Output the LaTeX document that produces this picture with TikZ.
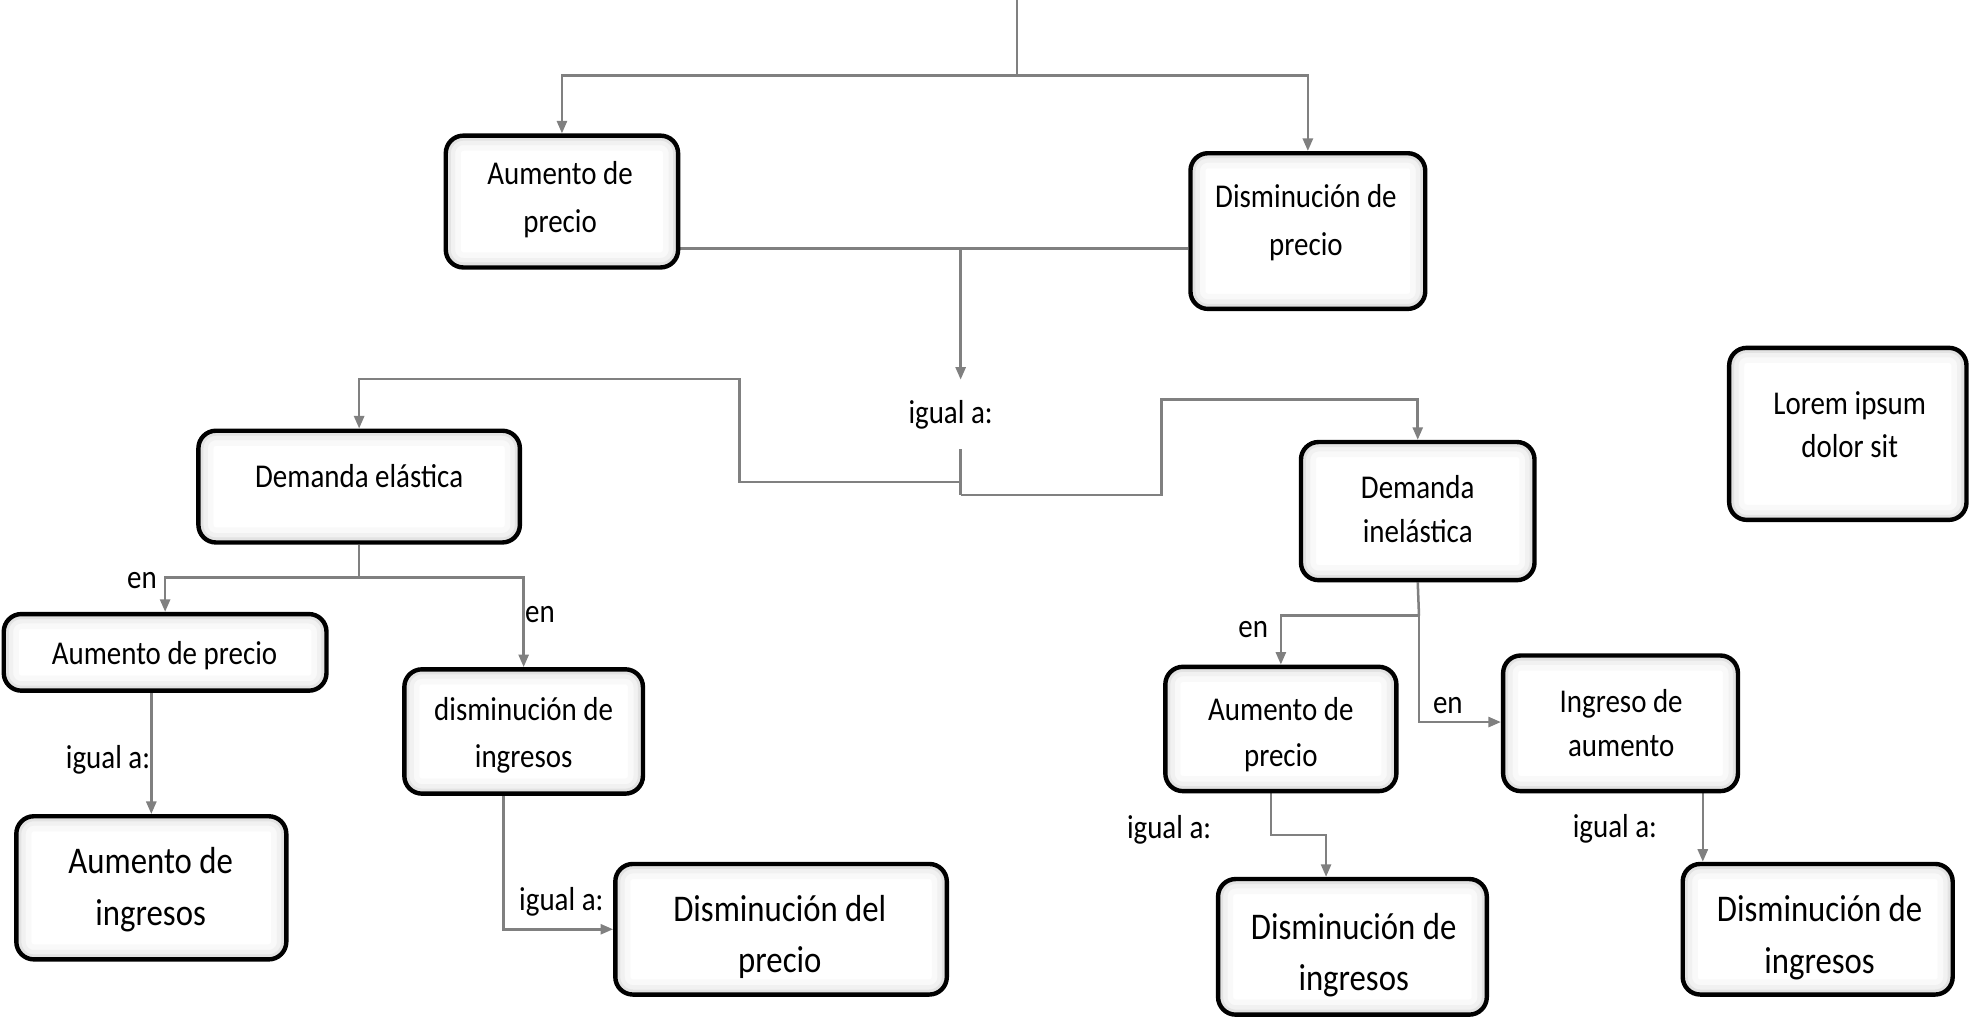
\documentclass[tikz,border=0pt]{standalone}
\usepackage{fontspec}
\setmainfont{Carlito}[FakeStretch=0.87]
\usetikzlibrary{arrows.meta,fit,backgrounds}
\definecolor{conn}{HTML}{808080}
\begin{document}
\begin{tikzpicture}[x=1pt,y=-1pt,
  box/.style={draw=black, line width=3.5pt, rounded corners=14pt, fill=white, inner sep=0pt,
    path picture={
      \draw[rounded corners=14pt, gray!5, line width=24pt] (path picture bounding box.south west) rectangle (path picture bounding box.north east);
      \draw[rounded corners=14pt, gray!11, line width=15pt] (path picture bounding box.south west) rectangle (path picture bounding box.north east);
      \draw[rounded corners=14pt, gray!22, line width=8pt] (path picture bounding box.south west) rectangle (path picture bounding box.north east);
    }},
  txt/.style={align=center, inner sep=0pt, font=\fontsize{26.5}{36}\selectfont},
  bigtxt/.style={align=center, inner sep=0pt, font=\fontsize{30}{41}\selectfont},
  lbl/.style={inner sep=0pt, font=\fontsize{26.5}{36}\selectfont},
  conn/.style={draw=conn, line width=2pt},
  arr/.style={conn, -{Triangle[length=10pt,width=8pt]}}
]
\useasboundingbox (0,0) rectangle (1568,811);

% boxes
\node[box, fit={(355,108) (540,213)}] (A) {};
\node[box, fit={(948,122) (1135,246)}] (B) {};
\node[box, fit={(158,343) (414,432)}] (C) {};
\node[box, fit={(3,489) (260,550)}] (D) {};
\node[box, fit={(13,650) (228,764)}] (E) {};
\node[box, fit={(322,533) (512,632)}] (F) {};
\node[box, fit={(490,688) (754,792)}] (G) {};
\node[box, fit={(1036,352) (1222,462)}] (H) {};
\node[box, fit={(928,531) (1112,630)}] (I) {};
\node[box, fit={(1197,522) (1384,630)}] (J) {};
\node[box, fit={(970,700) (1184,808)}] (K) {};
\node[box, fit={(1340,688) (1555,792)}] (L) {};
\node[box, fit={(1377,277) (1566,414)}] (M) {};

% texts
\node[txt, font=\fontsize{26.5}{38}\selectfont] (At) at (446,159) {Aumento de\\precio};
\node[txt, font=\fontsize{26.5}{38}\selectfont] (Bt) at (1040,177) {Disminución de\\precio};
\node[txt] (Ct) at (286,379) {Demanda elástica};
\node[txt] (Dt) at (131,522) {Aumento de precio};
\node[bigtxt] (Et) at (120,708.5) {Aumento de\\ingresos};
\node[txt, font=\fontsize{26.5}{37}\selectfont] (Ft) at (417,585.5) {disminución de\\ingresos};
\node[bigtxt] (Gt) at (621,746) {Disminución del\\precio};
\node[txt, font=\fontsize{26.5}{35}\selectfont] (Ht) at (1129,405.5) {Demanda\\inelástica};
\node[txt] (It) at (1020,585) {Aumento de\\precio};
\node[txt, font=\fontsize{26.5}{35}\selectfont] (Jt) at (1291,575.5) {Ingreso de\\aumento};
\node[bigtxt] (Kt) at (1078,760.5) {Disminución de\\ingresos};
\node[bigtxt] (Lt) at (1449,746.5) {Disminución de\\ingresos};
\node[txt, font=\fontsize{26.5}{34}\selectfont] (Mt) at (1473,338) {Lorem ipsum\\dolor sit};

% labels
\node[lbl, inner ysep=16pt] (igual) at (757,330) {igual a:};
\node[lbl] (en1) at (113,462) {en};
\node[lbl] (en2) at (430,489) {en};
\node[lbl] (ig2) at (86,605) {igual a:};
\node[lbl] (ig3) at (447,718) {igual a:};
\node[lbl] (en3) at (998,501) {en};
\node[lbl] (en4) at (1153,562) {en};
\node[lbl] (ig4) at (931,661) {igual a:};
\node[lbl] (ig5) at (1286,660) {igual a:};

% junction coordinates
\coordinate (top) at (810,0);
\coordinate (j1) at (810,60);
\coordinate (j2) at (765,198);
\coordinate (j4) at (765,394);
\coordinate (j5) at (765,384);
\coordinate (j6) at (286,460);
\coordinate (j7) at (401,740);
\coordinate (j8) at (1130,490);
\coordinate (j9) at (1130,575);
\coordinate (j10) at (1012,665);
\coordinate (j11) at (1056,665);
\coordinate (j12) at (1356,660);

\begin{pgfonlayer}{background}
\draw[conn] (top) -- (j1);
\draw[arr] (j1) -| (A.north);
\draw[arr] (j1) -| (B.north);
\draw[conn] (A.east |- j2) -- (j2);
\draw[conn] (B.west |- j2) -- (j2);
\draw[arr] (j2) -- (j2 |- igual.north);
\draw[conn] (j2 |- igual.south) -- (j4);
\draw[arr] (j5) -- (589,384) -- (589,302) -| (C.north);
\draw[arr] (j4) -| (925,318) -| (H.north);
\draw[conn] (C.south) -- (j6);
\draw[arr] (j6) -| (D.north);
\draw[arr] (j6) -| (F.north);
\draw[arr] (D.south -| E.north) -- (E.north);
\draw[arr] (F.south -| j7) -- (j7) -- (G.west);
\draw[conn] (H.south) -- (j8);
\draw[arr] (j8) -| (I.north);
\draw[arr] (j8) -- (j9) -- (J.west |- j9);
\draw[arr] (I.south -| j10) -- (j10) -- (j11) -- (K.north -| j11);
\draw[arr] (J.south -| j12) -- (L.north -| j12);
\end{pgfonlayer}
\end{tikzpicture}
\end{document}
